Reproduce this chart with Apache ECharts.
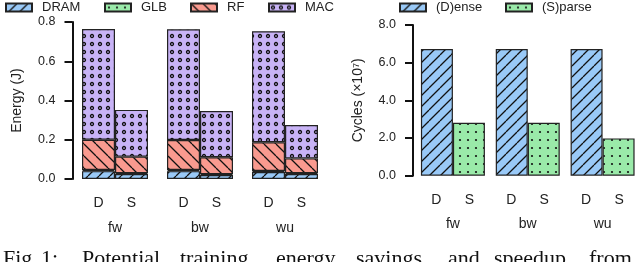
<!DOCTYPE html>
<html><head><meta charset="utf-8">
<script src="https://cdn.jsdelivr.net/npm/echarts@6/dist/echarts.min.js"></script>
<style>html,body{margin:0;padding:0;background:#fff}#c{width:640px;height:262px}</style>
</head><body><div id="c"></div>
<script>
// ---- data ----
const categories = ['fw', 'bw', 'wu'];
const subLabels = ['D', 'S'];
// Energy (J), dense (D) and sparse (S) stacks
const dramD = [0.040, 0.040, 0.036];
const glbD  = [0.006, 0.006, 0.005];
const rfD   = [0.154, 0.153, 0.146];
const macD  = [0.564, 0.564, 0.566];
const dramS = [0.025, 0.020, 0.025];
const glbS  = [0.005, 0.005, 0.005];
const rfS   = [0.084, 0.086, 0.075];
const macS  = [0.238, 0.235, 0.170];
// Cycles (x10^7)
const cyclesDense  = [6.72, 6.72, 6.72];
const cyclesSparse = [2.81, 2.81, 1.98];
const energyTicks = [0, 0.8, 0.2];
const cycleTicks = [0, 8, 2];
const captionWords = ['Fig.', '1:', 'Potential', 'training', 'energy', 'savings', 'and', 'speedup', 'from'];

// ---- patterns ----
function hatch(bg, dir, p) {
  const c = document.createElement('canvas'); c.width = p; c.height = p;
  const g = c.getContext('2d');
  g.fillStyle = bg; g.fillRect(0, 0, p, p);
  g.strokeStyle = '#111'; g.lineWidth = 1.3; g.beginPath();
  for (let k = -1; k <= 1; k++) {
    if (dir === '/') { g.moveTo(k * p, p); g.lineTo(k * p + p, 0); }
    else { g.moveTo(k * p, 0); g.lineTo(k * p + p, p); }
  }
  g.stroke();
  return { image: c, repeat: 'repeat' };
}
function dots(bg, p, r, ring) {
  const c = document.createElement('canvas'); c.width = p; c.height = p;
  const g = c.getContext('2d');
  g.fillStyle = bg; g.fillRect(0, 0, p, p);
  g.beginPath(); g.arc(p / 2, p / 2, r, 0, Math.PI * 2);
  if (ring) { g.strokeStyle = '#111'; g.lineWidth = 1.3; g.stroke(); }
  else { g.fillStyle = '#111'; g.fill(); }
  return { image: c, repeat: 'repeat' };
}
const BLUE = '#99c9f7', GREEN = '#9aeaa9', SALMON = '#f99a8f', LAV = '#c8b3f6';
const pDram = hatch(BLUE, '/', 11);
const pGlb = dots(GREEN, 8, 1.1, false);
const pRf = hatch(SALMON, '\\', 12);
const pMac = dots(LAV, 8, 1.5, true);

const FONT = 'Liberation Sans';
const border = { borderColor: '#222', borderWidth: 1.2 };

function bar(name, stack, data, pat, xi, w) {
  return { type: 'bar', name, stack, data, xAxisIndex: xi, yAxisIndex: xi, barWidth: w, barGap: '0%',
    itemStyle: Object.assign({ color: pat }, border), emphasis: { disabled: true }, animation: false };
}

function catAxis(gi, margin) {
  const st = (w) => ({ width: w, align: 'center', fontSize: 14, fontFamily: FONT, color: '#222', lineHeight: 24.5 });
  return {
    type: 'category', data: categories, gridIndex: gi,
    axisLine: { show: false }, axisTick: { show: false },
    axisLabel: {
      margin, interval: 0,
      formatter: v => '{d|' + subLabels[0] + '}{s|' + subLabels[1] + '}\n{c|' + v + '}',
      rich: { d: st(33), s: st(33), c: st(66) }
    }
  };
}
function valAxis(gi, ticks, name, off) {
  return {
    type: 'value', gridIndex: gi, min: ticks[0], max: ticks[1], interval: ticks[2], offset: off,
    name, nameLocation: 'middle', nameGap: 48, nameRotate: 90,
    nameTextStyle: { fontSize: 14, fontFamily: FONT, color: '#222' },
    axisLine: { show: true, lineStyle: { color: '#111', width: 2 } },
    axisTick: { show: true, length: 8, lineStyle: { color: '#111', width: 2 } },
    splitLine: { show: false },
    axisLabel: { margin: 17, fontSize: 12.5, fontFamily: FONT, color: '#222', formatter: v => v.toFixed(1) }
  };
}
function leg(name, left) {
  return { data: [name], left, top: 1, padding: 0, itemWidth: 26, itemHeight: 8, icon: 'rect',
    textStyle: { fontSize: 13, fontFamily: FONT, color: '#222', padding: [0, 0, 0, 5] }, selectedMode: false };
}

const xs = [3, 41, 82, 180, 276, 356, 448, 494, 589];
const graphic = captionWords.map((w, i) => ({
  type: 'text', left: xs[i], top: 248, silent: true,
  style: { text: w, font: '22px "Liberation Serif"', fill: '#111' }
}));

const chart = echarts.init(document.getElementById('c'), null, { renderer: 'canvas' });
chart.setOption({
  animation: false,
  grid: [
    { left: 72.5, top: 22, width: 255, height: 157 },
    { left: 415.5, top: 25, width: 231, height: 150.7 }
  ],
  legend: [leg('DRAM', 5), leg('GLB', 104), leg('RF', 190), leg('MAC', 268), leg('(D)ense', 399), leg('(S)parse', 505)],
  xAxis: [catAxis(0, 12), catAxis(1, 12)],
  yAxis: [valAxis(0, energyTicks, 'Energy (J)', 0), valAxis(1, cycleTicks, 'Cycles (×10⁷)', 2.5)],
  series: [
    bar('DRAM', 'D', dramD, pDram, 0, 33),
    bar('GLB', 'D', glbD, pGlb, 0, 33),
    bar('RF', 'D', rfD, pRf, 0, 33),
    bar('MAC', 'D', macD, pMac, 0, 33),
    bar('DRAM', 'S', dramS, pDram, 0, 33),
    bar('GLB', 'S', glbS, pGlb, 0, 33),
    bar('RF', 'S', rfS, pRf, 0, 33),
    bar('MAC', 'S', macS, pMac, 0, 33),
    bar('(D)ense', null, cyclesDense, pDram, 1, 32),
    bar('(S)parse', null, cyclesSparse, pGlb, 1, 32)
  ],
  graphic
});
</script>
</body></html>
